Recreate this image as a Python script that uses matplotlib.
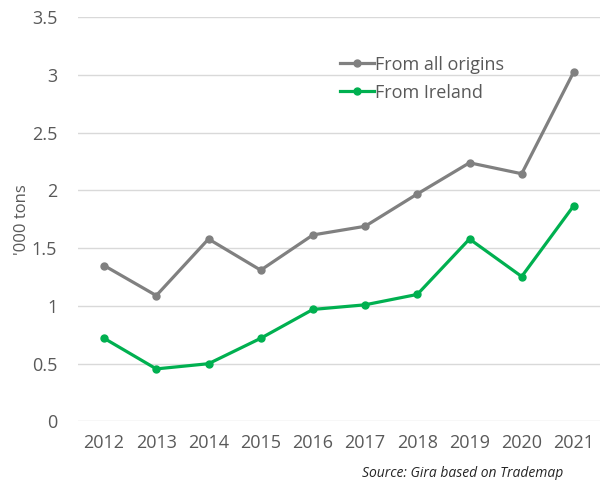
import matplotlib.pyplot as plt

years = ["2012", "2013", "2014", "2015", "2016", "2017", "2018", "2019", "2020", "2021"]
all_origins = [1.35, 1.09, 1.58, 1.31, 1.615, 1.69, 1.97, 2.24, 2.145, 3.03]
ireland = [0.72, 0.455, 0.50, 0.72, 0.97, 1.01, 1.10, 1.58, 1.255, 1.87]
yticks = [0, 0.5, 1, 1.5, 2, 2.5, 3, 3.5]
ytick_labels = ["0", "0.5", "1", "1.5", "2", "2.5", "3", "3.5"]

plt.rcParams["font.family"] = ["Open Sans", "DejaVu Sans"]
txt = "#595959"

fig = plt.figure(figsize=(6, 4.8), dpi=100)
ax = fig.add_axes([0.13, 0.122, 0.87, 0.842])

x = list(range(len(years)))
ax.plot(x, all_origins, color="#808080", lw=2.3, marker="o", ms=5, label="From all origins", zorder=3)
ax.plot(x, ireland, color="#00b050", lw=2.3, marker="o", ms=5, label="From Ireland", zorder=3)

ax.set_xlim(-0.5, len(years) - 0.5)
ax.set_ylim(0, 3.5)
ax.set_yticks(yticks)
ax.set_yticklabels(ytick_labels)
ax.set_xticks(x)
ax.set_xticklabels(years)
ax.tick_params(length=0, colors=txt, labelsize=13)
ax.tick_params(axis="x", pad=9)
ax.tick_params(axis="y", pad=15)
ax.grid(axis="y", color="#d9d9d9", lw=1)
ax.set_axisbelow(True)
for s in ax.spines.values():
    s.set_visible(False)

ax.set_ylabel("'000 tons", color=txt, fontsize=12, labelpad=1)

leg = ax.legend(loc="upper left", bbox_to_anchor=(0.47, 0.945), frameon=False,
                handlelength=1.9, handletextpad=0.05, labelspacing=0.55,
                fontsize=13)
for t in leg.get_texts():
    t.set_color(txt)

fig.text(0.603, 0.006, "Source: Gira based on Trademap", fontsize=10,
         style="italic", color="#262626")

fig.savefig("out.png")
